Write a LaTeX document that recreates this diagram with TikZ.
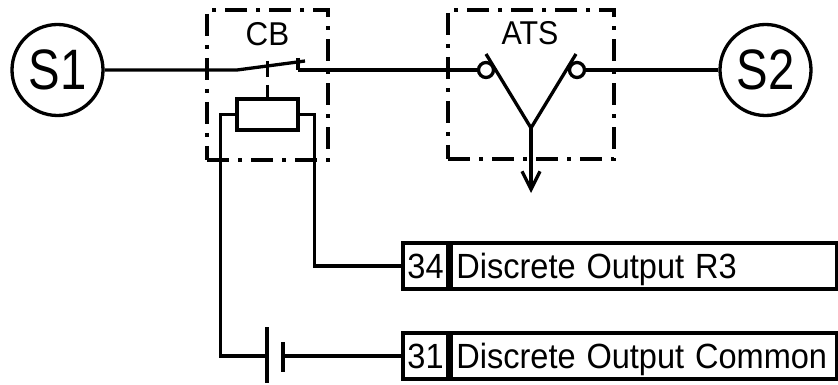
\documentclass[tikz,border=0pt]{standalone}
\usepackage{fontspec}
\setmainfont{Liberation Sans}
\usepackage{tikz}
\usetikzlibrary{calc,positioning,arrows.meta}

\begin{document}
\begin{tikzpicture}[x=1pt,y=-1pt,line width=3.3pt,
  src/.style={draw,circle,minimum size=91pt,inner sep=0pt,font=\fontsize{57}{57}\selectfont},
  dashbox/.style={draw,dash pattern=on 22pt off 9pt on 4pt off 9pt,inner sep=0pt},
  boxlabel/.style={anchor=base,font=\fontsize{33}{33}\selectfont},
  contact/.style={draw,circle,minimum size=15pt,inner sep=0pt,fill=white},
  coil/.style={draw,minimum width=61pt,minimum height=31pt,inner sep=0pt},
  pin/.style={draw,minimum width=45pt,minimum height=46pt,inner sep=0pt,text height=25pt,text depth=0pt,font=\fontsize{35}{35}\selectfont},
  desc/.style={pin,minimum width=385pt,text width=375pt,inner xsep=5pt,align=left}]
\useasboundingbox (0,0) rectangle (838,385);

\node[src] (S1) at (57.5,70) {\scalebox{0.83}[1]{S1}};
\node[src] (S2) at (765.5,70) {\scalebox{0.83}[1]{S2}};

\node[dashbox,minimum width=121pt,minimum height=150pt] (cb) at (267.5,85) {};
\node[dashbox,minimum width=166pt,minimum height=149pt] (ats) at (531,84.5) {};
\node[boxlabel] (cbname) at (267.5,46) {\scalebox{0.95}[1]{CB}};
\node[boxlabel] (atsname) at (530,45) {\scalebox{0.92}[1]{ATS}};

\coordinate (cbpivot) at (237,70);
\coordinate (cbtip) at (305,61);
\coordinate (cbfix) at (298,70);
\draw (S1.east) -- (cbpivot) -- (cbtip);
\draw (298,58) -- (cbfix);

\node[coil] (relay) at (267.5,114.5) {};
\draw[dash pattern=on 16pt off 8pt] (267.5,61) -- (relay.north);

\node[contact] (a1) at (486,70) {};
\node[contact] (a2) at (577,70) {};
\coordinate (acom) at (531,128);
\draw (cbfix) -- (a1.west);
\draw (a2.east) -- (S2.west);
\draw (486,54) -- (acom) -- (576,54);
\draw[-{Straight Barb[length=18pt,width=18pt]}] (acom) -- (531,193);

\node[pin] (t34) at (425.5,266) {\scalebox{0.93}[1]{34}};
\node[desc,right=0pt of t34] (d34) {\scalebox{0.93}[1]{Discrete Output R3}};
\node[pin] (t31) at (425.5,356) {\scalebox{0.93}[1]{31}};
\node[desc,right=0pt of t31] (d31) {\scalebox{0.93}[1]{Discrete Output Common}};

\coordinate (batA) at (267,356);
\coordinate (batB) at (283,356);
\draw (267,327) -- (267,383);
\draw (283,342) -- (283,372);

\draw (relay.east) -- ++(15,0) |- (t34.west);
\draw (relay.west) -- ++(-15,0) |- (batA);
\draw (batB) -- (t31.west);
\end{tikzpicture}
\end{document}
